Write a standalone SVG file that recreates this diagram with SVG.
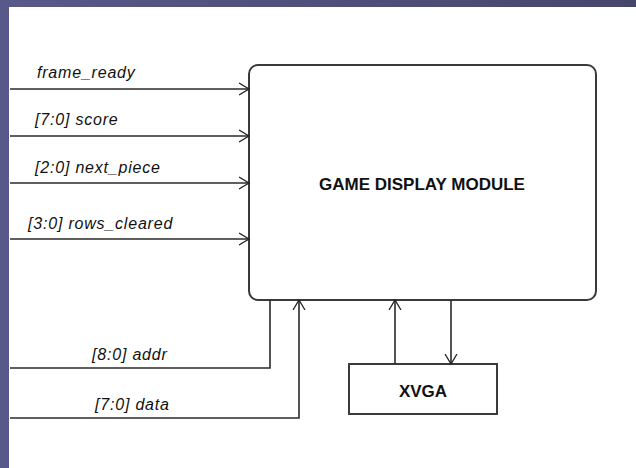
<svg xmlns="http://www.w3.org/2000/svg" width="636" height="468" viewBox="0 0 636 468">
<defs>
<linearGradient id="bg" x1="0" y1="0" x2="1" y2="0">
<stop offset="0" stop-color="#58588a"/>
<stop offset="1" stop-color="#47476c"/>
</linearGradient>
<marker id="arr" markerUnits="userSpaceOnUse" markerWidth="12" markerHeight="14" refX="10" refY="6" orient="auto" viewBox="0 0 12 12">
<path d="M0,0 L10,6 L0,12" fill="none" stroke="#222" stroke-width="1.3"/>
</marker>
</defs>
<style>
.wire{fill:none;stroke:#2a2a2a;stroke-width:1.6}
.lbl{font-family:"Liberation Sans",Arial,sans-serif;font-style:italic;font-size:16px;letter-spacing:0.8px;fill:#111}
.ttl{font-family:"Liberation Sans",Arial,sans-serif;font-weight:bold;font-size:17px;fill:#111}
.box{fill:#fff;stroke:#3a3a3a;stroke-width:2}
</style>
<rect x="0" y="0" width="636" height="468" fill="url(#bg)"/>
<rect x="9" y="7" width="627" height="461" fill="#fff"/>
<g id="game_display_module">
<rect class="box" x="249" y="65" width="347" height="235" rx="9"/>
<text class="ttl" x="422" y="190" text-anchor="middle">GAME DISPLAY MODULE</text>
</g>
<g id="xvga">
<rect class="box" x="349" y="364" width="148" height="50" stroke-width="1.6"/>
<text class="ttl" x="423" y="397" text-anchor="middle">XVGA</text>
</g>
<g id="connectors">
<path class="wire" d="M10,89 H249" marker-end="url(#arr)"/>
<path class="wire" d="M10,136 H249" marker-end="url(#arr)"/>
<path class="wire" d="M10,183 H249" marker-end="url(#arr)"/>
<path class="wire" d="M10,239 H249" marker-end="url(#arr)"/>
<path class="wire" d="M270,300 V368 H10"/>
<path class="wire" d="M10,418 H299 V300" marker-end="url(#arr)"/>
<path class="wire" d="M395,364 V300" marker-end="url(#arr)"/>
<path class="wire" d="M451,300 V364" marker-end="url(#arr)"/>
<text class="lbl" x="37" y="78">frame_ready</text>
<text class="lbl" x="35" y="125">[7:0] score</text>
<text class="lbl" x="35" y="173">[2:0] next_piece</text>
<text class="lbl" x="28" y="229">[3:0] rows_cleared</text>
<text class="lbl" x="92" y="360">[8:0] addr</text>
<text class="lbl" x="95" y="410">[7:0] data</text>
</g>
</svg>
